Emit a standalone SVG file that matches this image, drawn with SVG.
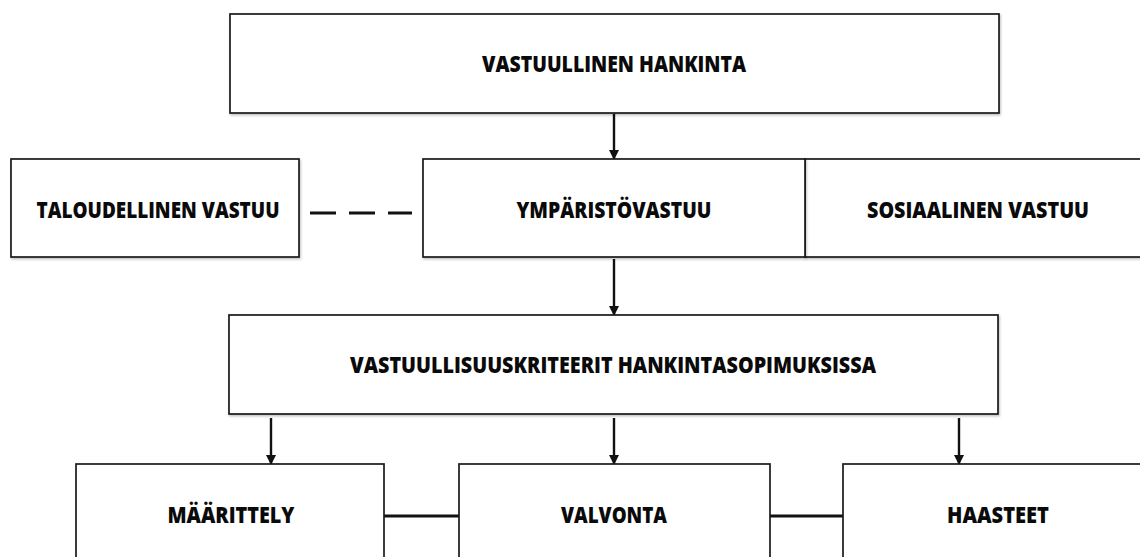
<svg xmlns="http://www.w3.org/2000/svg" width="1140" height="557" viewBox="0 0 1140 557">
  <defs>
    <marker id="ah" markerWidth="10" markerHeight="10" refX="9" refY="5" orient="auto" markerUnits="userSpaceOnUse" viewBox="0 0 10 10">
      <path d="M0,0 L10,5 L0,10 Z" fill="#111"/>
    </marker>
    <filter id="sh" x="-5%" y="-5%" width="110%" height="115%">
      <feDropShadow dx="1" dy="1.5" stdDeviation="1" flood-color="#000" flood-opacity="0.25"/>
    </filter>
  </defs>
  <style>
    .box { fill: #ffffff; stroke: #1a1a1a; stroke-width: 1.7; }
    .lbl { font-family: "Open Sans", "Liberation Sans", sans-serif; font-weight: 800; font-size: 23px; fill: #0a0a0a; text-anchor: middle; }
    .arrow { stroke: #111111; stroke-width: 2.4; fill: none; }
    .link { stroke: #111111; stroke-width: 2.8; fill: none; }
    .dash { stroke: #111111; stroke-width: 2.8; fill: none; stroke-dasharray: 26 13; }
  </style>
  <rect width="1140" height="557" fill="#ffffff"/>

  <g id="connectors">
    <line class="arrow" x1="614" y1="114" x2="614" y2="159" marker-end="url(#ah)"/>
    <line class="arrow" x1="614" y1="259" x2="614" y2="315" marker-end="url(#ah)"/>
    <line class="arrow" x1="271" y1="418" x2="271" y2="464" marker-end="url(#ah)"/>
    <line class="arrow" x1="614" y1="418" x2="614" y2="464" marker-end="url(#ah)"/>
    <line class="arrow" x1="959" y1="418" x2="959" y2="464" marker-end="url(#ah)"/>
    <line class="dash" x1="310" y1="213" x2="412" y2="213"/>
    <line class="link" x1="384" y1="516" x2="459" y2="516"/>
    <line class="link" x1="770" y1="516" x2="843" y2="516"/>
  </g>

  <g id="node-vastuullinen-hankinta">
    <rect class="box" x="230" y="14" width="769" height="99" filter="url(#sh)"/>
    <text class="lbl" x="614" y="72" textLength="264" lengthAdjust="spacingAndGlyphs">VASTUULLINEN HANKINTA</text>
  </g>

  <g id="node-taloudellinen">
    <rect class="box" x="11" y="159" width="288" height="98" filter="url(#sh)"/>
    <text class="lbl" x="158" y="218" textLength="243" lengthAdjust="spacingAndGlyphs">TALOUDELLINEN VASTUU</text>
  </g>

  <g id="node-sosiaalinen">
    <rect class="box" x="805" y="159" width="350" height="98" filter="url(#sh)"/>
    <text class="lbl" x="978" y="218" textLength="222" lengthAdjust="spacingAndGlyphs">SOSIAALINEN VASTUU</text>
  </g>

  <g id="node-ymparistovastuu">
    <rect class="box" x="423" y="159" width="382" height="98" filter="url(#sh)"/>
    <text class="lbl" x="614" y="218" textLength="195" lengthAdjust="spacingAndGlyphs">YMPÄRISTÖVASTUU</text>
  </g>

  <g id="node-kriteerit">
    <rect class="box" x="229" y="315" width="769" height="99" filter="url(#sh)"/>
    <text class="lbl" x="613" y="373" textLength="526" lengthAdjust="spacingAndGlyphs">VASTUULLISUUSKRITEERIT HANKINTASOPIMUKSISSA</text>
  </g>

  <g id="node-maarittely">
    <rect class="box" x="76" y="464" width="308" height="110"/>
    <text class="lbl" x="231" y="523" textLength="127" lengthAdjust="spacingAndGlyphs">MÄÄRITTELY</text>
  </g>

  <g id="node-valvonta">
    <rect class="box" x="459" y="464" width="311" height="110"/>
    <text class="lbl" x="614" y="523" textLength="106" lengthAdjust="spacingAndGlyphs">VALVONTA</text>
  </g>

  <g id="node-haasteet">
    <rect class="box" x="843" y="464" width="311" height="110"/>
    <text class="lbl" x="998" y="523" textLength="102" lengthAdjust="spacingAndGlyphs">HAASTEET</text>
  </g>
</svg>
